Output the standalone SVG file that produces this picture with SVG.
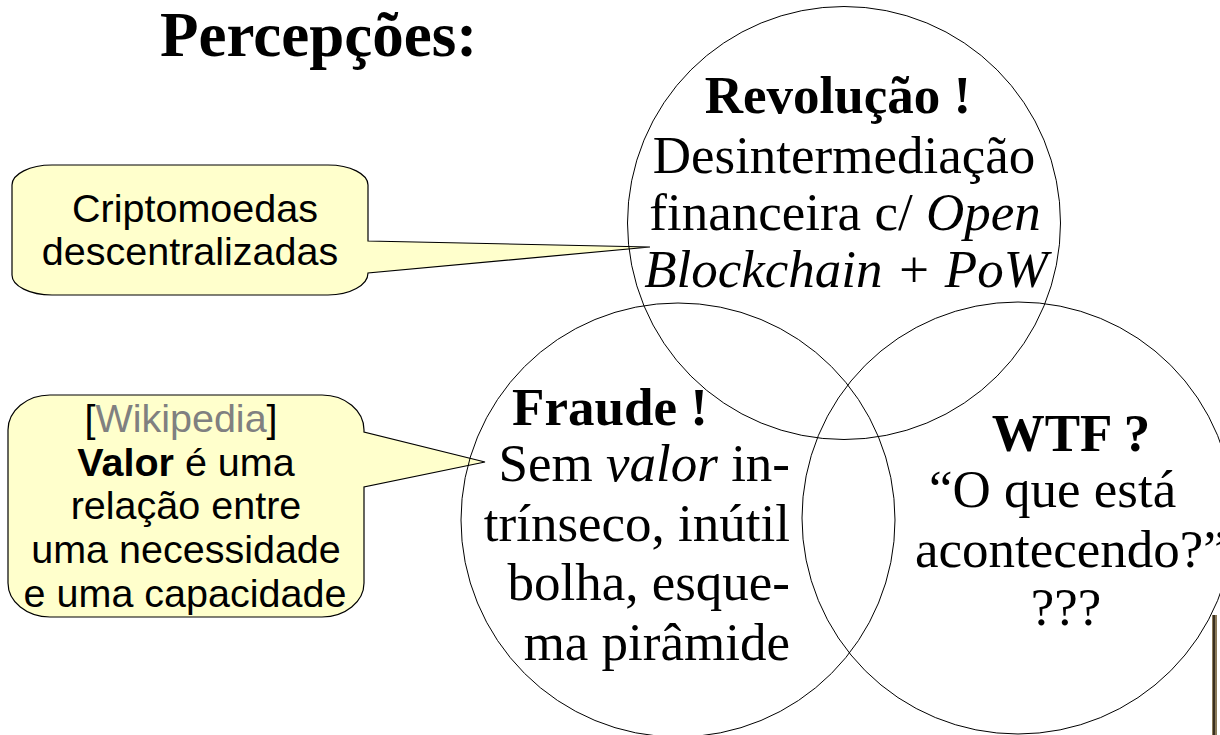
<svg xmlns="http://www.w3.org/2000/svg" width="1220" height="735" viewBox="0 0 1220 735">
<style>
.serif{font-family:"Liberation Serif","Times New Roman",serif;fill:#000}
.sans{font-family:"Liberation Sans",Arial,sans-serif;fill:#000}
.big{font-size:53px}
.call{font-size:39.5px}
.circle{fill:none;stroke:#000;stroke-width:1}
.callout{fill:#ffffcc;stroke:#000;stroke-width:1.2}
</style>
<rect width="1220" height="735" fill="#fff"/>
<g id="title"><text class="serif" x="160" y="56" font-size="63" font-weight="bold">Percepções:</text></g>
<g id="callout-cripto">
<path class="callout" d="M52 165 H328 A40 20 0 0 1 368 185 V241 L650 247 L368 273 A40 22 0 0 1 328 295 H52 A40 20 0 0 1 12 275 V185 A40 20 0 0 1 52 165 Z"/>
<text class="sans call" text-anchor="middle" x="195" y="222">Criptomoedas</text>
<text class="sans call" text-anchor="middle" x="190" y="265">descentralizadas</text>
</g>
<g id="callout-valor">
<path class="callout" d="M50 395 H322 A42 35 0 0 1 364 430 V432 L485 462 L364 487 V583 A42 34 0 0 1 322 617 H50 A42 34 0 0 1 8 583 V430 A42 35 0 0 1 50 395 Z"/>
<text class="sans call" text-anchor="middle" x="181" y="432">[<tspan fill="#808080">Wikipedia</tspan>]</text>
<text class="sans call" text-anchor="middle" x="186" y="476"><tspan font-weight="bold">Valor</tspan> é uma</text>
<text class="sans call" text-anchor="middle" x="186" y="519">relação entre</text>
<text class="sans call" text-anchor="middle" x="186" y="563">uma necessidade</text>
<text class="sans call" text-anchor="middle" x="185" y="607">e uma capacidade</text>
</g>
<g id="revolucao">
<circle class="circle" cx="844" cy="223" r="216.5"/>
<text class="serif big" text-anchor="middle" x="838" y="113" font-weight="bold">Revolução !</text>
<text class="serif big" text-anchor="middle" x="844" y="173">Desintermediação</text>
<text class="serif big" text-anchor="middle" x="845" y="230">financeira c/ <tspan font-style="italic">Open</tspan></text>
<text class="serif big" text-anchor="middle" x="846" y="287" font-style="italic">Blockchain + PoW</text>
</g>
<g id="fraude">
<circle class="circle" cx="678" cy="520" r="217"/>
<text class="serif big" text-anchor="middle" x="610" y="425" font-weight="bold">Fraude !</text>
<text class="serif big" text-anchor="end" x="790" y="481">Sem <tspan font-style="italic">valor</tspan> in-</text>
<text class="serif big" text-anchor="end" x="790" y="541">trínseco, inútil</text>
<text class="serif big" text-anchor="end" x="790" y="600">bolha, esque-</text>
<text class="serif big" text-anchor="end" x="790" y="660">ma pirâmide</text>
</g>
<g id="wtf">
<circle class="circle" cx="1018" cy="518" r="216"/>
<text class="serif big" text-anchor="middle" x="1071" y="451" font-weight="bold">WTF ?</text>
<text class="serif big" x="929" y="507">“O que está</text>
<text class="serif big" x="915" y="567">acontecendo?”</text>
<text class="serif big" text-anchor="middle" x="1066" y="625">???</text>
</g>
<g id="connectors"></g>
<rect x="1212" y="615" width="5" height="120" fill="#8a7a5a"/>
<rect x="1213" y="615" width="2" height="120" fill="#3a3020"/>
</svg>
